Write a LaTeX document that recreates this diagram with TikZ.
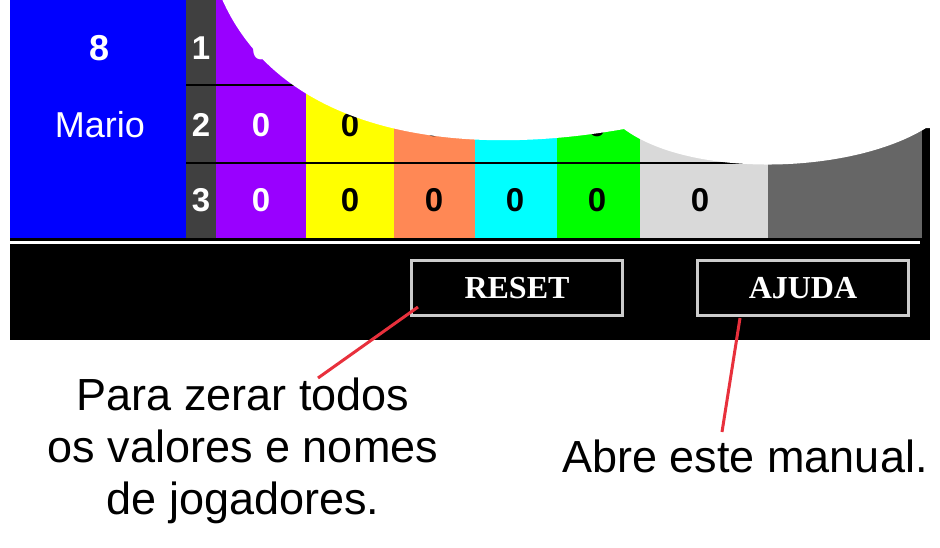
\documentclass[tikz,border=0pt]{standalone}
\usepackage{fontspec}
\setmainfont{Liberation Sans}
\newfontfamily\btnfont{Liberation Serif}
\begin{document}
\begin{tikzpicture}[x=1pt,y=-1pt,
  num/.style={font=\fontsize{33}{36}\selectfont\bfseries},
  btn/.style={draw=lightgray!80,line width=3pt,fill=black,text=white,font=\btnfont\fontsize{32}{34}\selectfont\bfseries,minimum width=211pt,minimum height=55pt,inner sep=0pt},
  note/.style={font=\fontsize{45}{52}\selectfont,align=center,inner sep=0pt},
  lead/.style={draw=ledred,line width=3pt}]
\definecolor{vpurple}{HTML}{9900FF}
\definecolor{vorange}{HTML}{FF8855}
\definecolor{vyellow}{HTML}{FFFF00}
\definecolor{vcyan}{HTML}{00FFFF}
\definecolor{vgreen}{HTML}{00FF00}
\definecolor{vblue}{HTML}{0000FF}
\definecolor{lgray}{HTML}{D9D9D9}
\definecolor{dgray}{HTML}{666666}
\definecolor{cgray}{HTML}{404040}
\definecolor{ledred}{HTML}{E8303C}
\useasboundingbox (0,0) rectangle (940,547);
\fill[white] (0,0) rectangle (940,547);
\fill[black] (10,0) rectangle (930,340);
\fill[vblue] (10,0) rectangle (186,238);
\fill[cgray] (186,0) rectangle (216,238);
\fill[vpurple] (216,0) rectangle (306,238);
\fill[vyellow] (306,0) rectangle (394,238);
\fill[vorange] (394,0) rectangle (475,238);
\fill[vcyan] (475,0) rectangle (557,238);
\fill[vgreen] (557,0) rectangle (640,238);
\fill[lgray] (640,0) rectangle (768,238);
\fill[dgray] (768,0) rectangle (922,238);
\draw[black,line width=1.5pt] (186,85) -- (768,85) (186,163) -- (768,163);
\node[text=white,font=\fontsize{36}{38}\selectfont\bfseries] (eight) at (100,48) {8};
\node[text=white,font=\fontsize{36}{38}\selectfont] (mario) at (100,125) {Mario};
\foreach \r/\y in {1/48,2/125,3/200}{
  \node[num,text=white] (r\r) at (201,\y) {\r};
  \node[num,text=white] (p\r) at (261,\y) {0};
  \node[num] (y\r) at (350,\y) {0};
  \node[num] (o\r) at (434,\y) {0};
  \node[num] (c\r) at (515,\y) {0};
  \node[num] (g\r) at (597,\y) {0};
  \node[num] (l\r) at (700,\y) {0};
}
\fill[white] (222,-1) .. controls (280,130) and (450,160) .. (624,129)
  .. controls (690,178) and (850,175) .. (926,128) -- (941,128) -- (941,-1) -- cycle;
\draw[white,line width=3pt] (10,242) -- (920,242);
\node[btn] (reset) at (517,288) {RESET};
\node[btn] (ajuda) at (803,288) {AJUDA};
\node[note] (t1) at (243,451) {Para zerar todos\\os valores e nomes\\de jogadores.};
\node[note] (t2) at (745,456) {Abre este manual.};
\coordinate (e1) at (318,378);
\coordinate (e2) at (722,432);
\draw[lead] (418,307) -- (e1);
\draw[lead] (740,318) -- (e2);
\end{tikzpicture}
\end{document}
